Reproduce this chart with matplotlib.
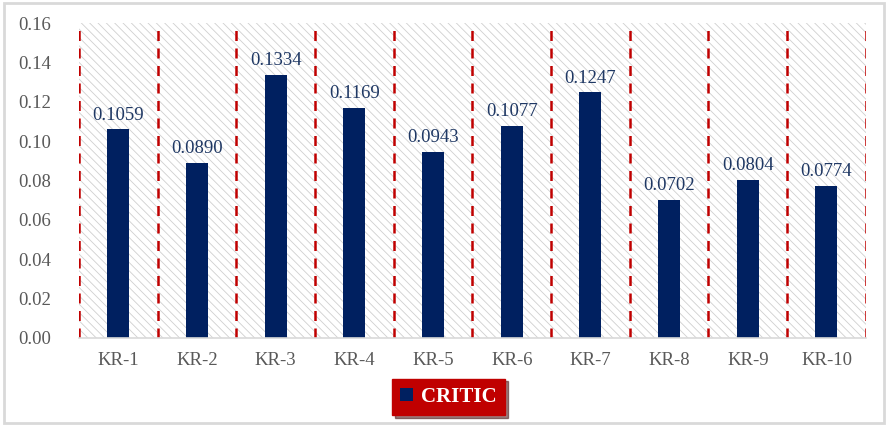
import matplotlib.pyplot as plt
from matplotlib.patches import Rectangle

# DATA
categories = ['KR-1', 'KR-2', 'KR-3', 'KR-4', 'KR-5', 'KR-6', 'KR-7', 'KR-8', 'KR-9', 'KR-10']
weights = [0.1059, 0.0890, 0.1334, 0.1169, 0.0943, 0.1077, 0.1247, 0.0702, 0.0804, 0.0774]
seriesName = 'CRITIC'

barColor = '#002060'
lineColor = '#C00000'

plt.rcParams['font.family'] = ['Liberation Serif', 'DejaVu Serif']
plt.rcParams['hatch.linewidth'] = 0.6
plt.rcParams['hatch.color'] = '#D0D0D0'

fig = plt.figure(figsize = (8.88, 4.26), dpi = 100)
ax = fig.add_axes([0.089, 0.207, 0.886, 0.739])

n = len(categories)
x = list(range(n))

# hatched background
ax.add_patch(Rectangle((-0.5, 0), n, 0.16, facecolor = 'white', edgecolor = '#D0D0D0',
                       hatch = '\\\\\\\\', linewidth = 0, zorder = 0))

# red dashed separators
for i in range(n + 1):
    ax.plot([i - 0.5, i - 0.5], [0, 0.16], color = lineColor, linestyle = (0, (4, 3)),
            linewidth = 1.8, zorder = 1)

bars = ax.bar(x, weights, width = 0.28, color = barColor, zorder = 2, label = seriesName)
for xi, w in zip(x, weights):
    ax.text(xi, w + 0.003, '%.4f' % w, ha = 'center', va = 'bottom', fontsize = 13.5,
            color = '#1F3864', zorder = 3)

ax.set_xlim(-0.5, n - 0.5)
ax.set_ylim(0, 0.16)
ax.set_yticks([0.00, 0.02, 0.04, 0.06, 0.08, 0.10, 0.12, 0.14, 0.16])
ax.set_yticklabels(['%.2f' % v for v in ax.get_yticks()])
ax.set_xticks(x)
ax.set_xticklabels(categories)
ax.tick_params(axis = 'both', length = 0, labelsize = 13.5, labelcolor = '#595959')
ax.tick_params(axis = 'y', pad = 20)
ax.tick_params(axis = 'x', pad = 10)
for s in ['top', 'right', 'left']:
    ax.spines[s].set_visible(False)
ax.spines['bottom'].set_color('#D9D9D9')
ax.spines['bottom'].set_linewidth(1.2)

leg = fig.legend(handles = [bars], labels = [seriesName], loc = 'center',
                 bbox_to_anchor = (0.505, 0.068), frameon = True, facecolor = lineColor,
                 edgecolor = lineColor, framealpha = 1, shadow = True, fancybox = False,
                 handlelength = 0.6, handleheight = 0.6, handletextpad = 0.4,
                 borderpad = 0.4, borderaxespad = 0, prop = {'weight': 'bold', 'size': 15})
for t in leg.get_texts():
    t.set_color('white')

# outer frame
fig.patches.append(Rectangle((0.004, 0.008), 0.992, 0.985, transform = fig.transFigure,
                             fill = False, edgecolor = '#D9D9D9', linewidth = 2))

fig.savefig('out.png', dpi = 100)
